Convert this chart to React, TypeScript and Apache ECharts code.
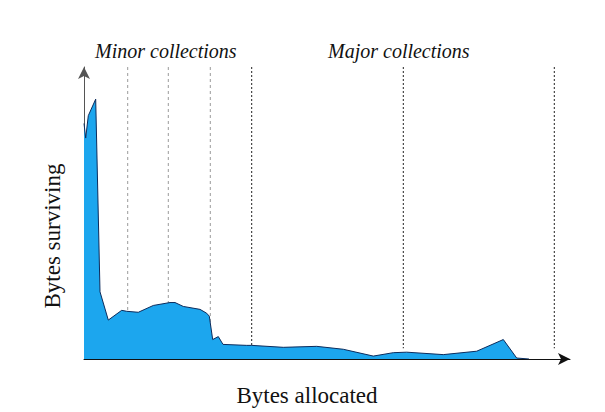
import React, { useEffect, useRef } from "react";
import * as echarts from "echarts";

// Bytes allocated (x, arbitrary units) vs bytes surviving (y, arbitrary units)
const allocated = [0, 1.7, 4.3, 11.7, 16, 24.3, 37.7, 42.7, 54.3, 69.3, 86, 91, 99.3, 116, 122.7, 125.3, 128.7, 134.3, 139, 162.7, 167.7, 199.3, 232.7, 259.3, 289.3, 309.3, 322.7, 359.3, 392.7, 419.3, 432.7, 445];
const surviving = [242, 227, 250, 267, 69, 40, 50, 49, 48, 55, 58, 58, 54, 51, 47, 44, 20, 23, 15, 14, 14, 12, 13, 10, 3, 6.5, 7, 4.5, 8, 20, 1, 0];

const minorCollections = [43.7, 84.3, 126.3];
const majorCollections = [167.7, 319.3, 470.3];
const dividerTop = 300;
const dividerBottom = 11;

const xMax = 486;
const yMax = 300;

const xTitle = "Bytes allocated";
const yTitle = "Bytes surviving";
const minorLabel = "Minor collections";
const majorLabel = "Major collections";

const serif = "Liberation Serif";

export default function App() {
  const ref = useRef<HTMLDivElement>(null);
  useEffect(() => {
    if (!ref.current) return;
    const chart = echarts.init(ref.current, null, { renderer: "svg" });
    const areaData = allocated.map((x, i) => [x, surviving[i]]);
    const dividerSeries = [
      ...minorCollections.map((x) => ({
        type: "line",
        data: [[x, dividerTop], [x, 0]],
        symbol: "none",
        silent: true,
        z: 1,
        lineStyle: { color: "#9a9a9a", width: 1, type: [3, 3] },
      })),
      ...majorCollections.map((x) => ({
        type: "line",
        data: [[x, dividerTop], [x, dividerBottom]],
        symbol: "none",
        silent: true,
        z: 1,
        lineStyle: { color: "#222", width: 1, type: [2, 2] },
      })),
    ];
    chart.setOption({
      animation: false,
      backgroundColor: "#fff",
      grid: { left: 84, right: 35, top: 67, bottom: 45 },
      xAxis: {
        type: "value",
        min: 0,
        max: xMax,
        name: xTitle,
        nameLocation: "middle",
        nameGap: 25,
        nameTextStyle: {
          fontFamily: serif,
          fontSize: 23,
          color: "#111",
          padding: [0, 40, 0, 0],
        },
        axisLine: {
          show: true,
          symbol: ["none", "arrow"],
          symbolSize: [9, 12],
          lineStyle: { color: "#111", width: 1 },
        },
        axisTick: { show: false },
        axisLabel: { show: false },
        splitLine: { show: false },
      },
      yAxis: {
        type: "value",
        min: 0,
        max: yMax,
        name: yTitle,
        nameLocation: "middle",
        nameGap: 20,
        nameTextStyle: {
          fontFamily: serif,
          fontSize: 23,
          color: "#111",
          padding: [0, 46, 0, 0],
        },
        axisLine: {
          show: true,
          symbol: ["none", "arrow"],
          symbolSize: [9, 12],
          lineStyle: { color: "#555", width: 1 },
        },
        axisTick: { show: false },
        axisLabel: { show: false },
        splitLine: { show: false },
      },
      graphic: [
        {
          type: "text",
          left: 95,
          top: 41,
          style: {
            text: minorLabel,
            fontFamily: serif,
            fontStyle: "italic",
            fontSize: 20,
            fill: "#111",
          },
        },
        {
          type: "text",
          left: 328,
          top: 41,
          style: {
            text: majorLabel,
            fontFamily: serif,
            fontStyle: "italic",
            fontSize: 20,
            fill: "#111",
          },
        },
      ],
      series: [
        ...dividerSeries,
        {
          type: "line",
          data: areaData,
          symbol: "none",
          z: 3,
          lineStyle: { color: "#0d2c5c", width: 1 },
          areaStyle: { color: "#1ca6ee", opacity: 1 },
        },
      ],
    });
    return () => chart.dispose();
  }, []);
  return (
    <div
      ref={ref}
      style={{ position: "fixed", left: 0, top: 0, width: 605, height: 412 }}
    />
  );
}
